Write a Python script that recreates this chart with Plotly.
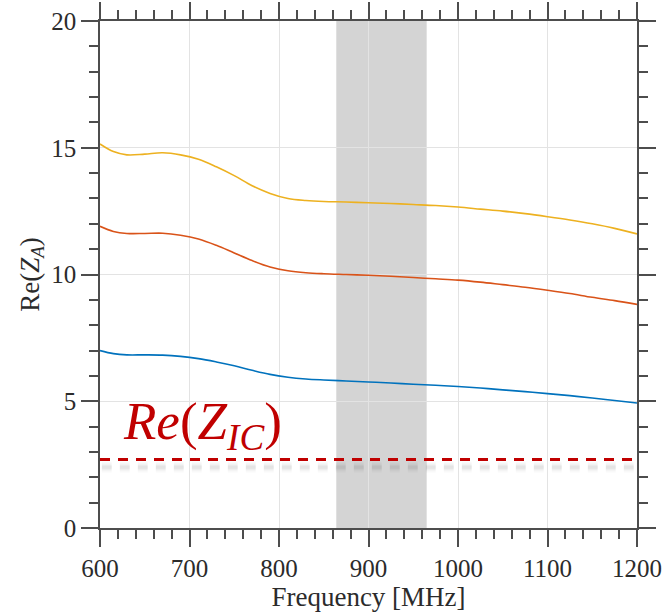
import plotly.graph_objects as go

# Frequency grid (MHz) and real part of antenna impedance for three designs
freq = [600, 615, 630, 650, 670, 690, 710, 730, 750, 770, 790, 810, 830, 850,
        875, 900, 925, 950, 975, 1000, 1025, 1050, 1075, 1100, 1125, 1150, 1175, 1200]
re_za_high = [15.15, 14.85, 14.72, 14.75, 14.8, 14.72, 14.55, 14.25, 13.9, 13.5, 13.2,
              13.0, 12.92, 12.88, 12.86, 12.83, 12.8, 12.76, 12.72, 12.66, 12.58, 12.5,
              12.4, 12.28, 12.15, 12.0, 11.82, 11.6]
re_za_mid = [11.9, 11.7, 11.62, 11.62, 11.63, 11.55, 11.4, 11.15, 10.85, 10.55, 10.3,
             10.15, 10.07, 10.03, 10.0, 9.97, 9.93, 9.88, 9.83, 9.78, 9.7, 9.6,
             9.5, 9.38, 9.25, 9.1, 8.97, 8.82]
re_za_low = [7.0, 6.88, 6.83, 6.83, 6.82, 6.77, 6.68, 6.55, 6.4, 6.22, 6.06,
             5.95, 5.88, 5.84, 5.8, 5.76, 5.72, 5.67, 5.63, 5.58, 5.52, 5.45,
             5.38, 5.3, 5.22, 5.13, 5.03, 4.93]
series_colors = ["#EDB120", "#D95319", "#0072BD"]

# Chip impedance reference level and highlighted band
re_zic = 2.7
zic_span = [600, 1195]
band = [864, 965]

fig = go.Figure()

fig.add_shape(type="rect", xref="x", yref="y", x0=band[0], x1=band[1], y0=0, y1=20,
              fillcolor="#d4d4d4", line_width=0, layer="below")

for ys, c in zip([re_za_high, re_za_mid, re_za_low], series_colors):
    fig.add_trace(go.Scatter(x=freq, y=ys, mode="lines", line=dict(color=c, width=1.6, shape="spline"),
                             showlegend=False, hoverinfo="skip"))

# soft blurred shadow under the dashed reference line (stacked faint strokes)
for w, a in [(11, 0.02), (8, 0.025), (5, 0.03), (3, 0.03)]:
    fig.add_trace(go.Scatter(x=[zic_span[0] + 2, zic_span[1] + 2], y=[re_zic - 0.3] * 2, mode="lines",
                             line=dict(color=f"rgba(0,0,0,{a})", width=w, dash="10px,8px"),
                             showlegend=False, hoverinfo="skip"))
fig.add_trace(go.Scatter(x=zic_span, y=[re_zic] * 2, mode="lines",
                         line=dict(color="#C00000", width=3, dash="10px,8px"),
                         showlegend=False, hoverinfo="skip"))

fig.add_annotation(x=624, y=4.05, xref="x", yref="y", xanchor="left", yanchor="middle",
                   text="<i>Re</i>(<i>Z<sub>IC</sub></i>)", showarrow=False,
                   font=dict(family="Liberation Serif", size=53, color="#C00000"))

axis_common = dict(
    showline=True, linecolor="#4d4d4d", linewidth=1.5, mirror="allticks",
    ticks="outside", ticklen=17, tickwidth=1.5, tickcolor="#4d4d4d",
    showgrid=True, gridcolor="#e3e3e3", gridwidth=1, zeroline=False, automargin=False,
    tickfont=dict(family="Liberation Serif", size=25, color="#2b2b2b"),
)

fig.update_xaxes(range=[600, 1200], dtick=100, tick0=600,
                 minor=dict(dtick=20, ticks="outside", ticklen=9, tickwidth=1.5,
                            tickcolor="#4d4d4d", showgrid=False),
                 title=dict(text="Frequency [MHz]", standoff=4,
                            font=dict(family="Liberation Serif", size=27, color="#2b2b2b")),
                 **axis_common)
fig.update_yaxes(range=[0, 20], dtick=5, tick0=0,
                 minor=dict(dtick=1, ticks="outside", ticklen=9, tickwidth=1.5,
                            tickcolor="#4d4d4d", showgrid=False),
                 title=dict(text="Re(<i>Z<sub>A</sub></i>)", standoff=4,
                            font=dict(family="Liberation Serif", size=27, color="#2b2b2b")),
                 **axis_common)

fig.update_layout(width=664, height=614, margin=dict(l=100, r=27, t=21, b=86),
                  plot_bgcolor="white", paper_bgcolor="white")

fig.write_html("out.html")
